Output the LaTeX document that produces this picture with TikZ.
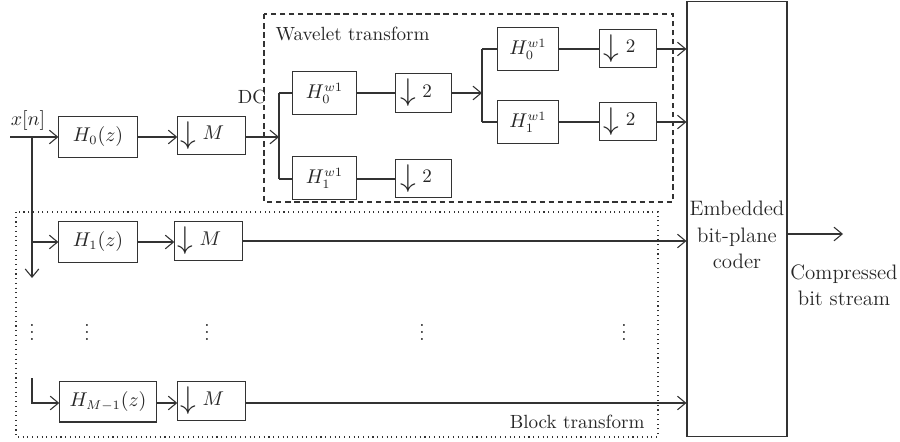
\documentclass[tikz,border=0pt]{standalone}
\usetikzlibrary{arrows.meta}
\newcommand{\darr}{\raisebox{-2pt}{\fontsize{16}{16}\selectfont$\downarrow$}\hspace{3.5pt}}
\begin{document}
\begin{tikzpicture}[x=0.55pt,y=-0.55pt,line width=0.6pt,draw=black!80,
  >={Straight Barb[length=4.5pt,width=7.5pt]},
  every node/.style={font=\fontsize{10.5}{13}\selectfont,text=black!85},
  big/.style={font=\fontsize{11.5}{14.5}\selectfont},
  blk/.style={draw=black!80,inner sep=1pt},
  hbox/.style={blk,minimum width=#1,minimum height=23pt},
  wbox/.style={blk,minimum width=#1,minimum height=24pt},
  dbox/.style={draw=black!80,minimum height=21pt,text width=#1,inner xsep=1.5pt,inner ysep=1pt,align=left},
  lbl/.style={inner sep=0pt}]
\useasboundingbox (0,0) rectangle (900,442);

% frames
\draw[dash pattern=on 3pt off 2pt] (264,14) rectangle (673,202);
\draw[dotted] (16,212) rectangle (658,437);

% coder
\node[blk,minimum width=55pt,minimum height=239.5pt] (coder) at (737,219) {};
\node[lbl,big,align=center] (codertext) at (737,235) {Embedded\\bit-plane\\coder};

% main row 0
\coordinate (xin) at (10,137);
\coordinate (s0) at (32,137);
\node[lbl] (xn) at (28,121) {$x[n]$};
\node[hbox=43pt] (H0) at (98,137) {$H_0(z)$};
\node[dbox=34pt] (M0) at (211.5,135.5) {\darr$M$};
\node[lbl] (dc) at (252,97) {DC};

% wavelet level 1
\coordinate (b1) at (279,137);
\coordinate (b1t) at (279,93);
\coordinate (b1b) at (279,179);
\node[wbox=35pt] (H0a) at (324.5,93) {$H_0^{w1}$};
\node[dbox=25.5pt,inner xsep=2.5pt] (D0a) at (423.5,93) {\darr 2};
\node[wbox=35pt] (H1a) at (324.5,178) {$H_1^{w1}$};
\node[dbox=25.5pt,inner xsep=2.5pt] (D1a) at (423.5,178.5) {\darr 2};
\node[lbl,anchor=west] (wt) at (275,34) {Wavelet transform};

% wavelet level 2
\coordinate (b2) at (482,93);
\coordinate (b2t) at (482,49);
\coordinate (b2b) at (482,122);
\node[wbox=34pt] (H0b) at (528,49) {$H_0^{w1}$};
\node[dbox=26.5pt,inner xsep=2.5pt] (D0b) at (628,48.5) {\darr 2};
\node[wbox=34pt] (H1b) at (528,122) {$H_1^{w1}$};
\node[dbox=26.5pt,inner xsep=2.5pt] (D1b) at (628,121.5) {\darr 2};

% row 1
\coordinate (s1) at (32,242);
\coordinate (sdown) at (32,278);
\node[hbox=43pt] (H1) at (98,242) {$H_1(z)$};
\node[dbox=34pt] (M1) at (208.5,241) {\darr$M$};

% row M-1
\coordinate (sm0) at (32,378);
\coordinate (sm1) at (32,403);
\node[hbox=53pt,minimum height=22.5pt] (HM) at (108,401.5) {$H_{M-1}(z)$};
\node[dbox=34pt] (MM) at (211.5,401) {\darr$M$};
\node[lbl,anchor=east] (bt) at (645,422) {Block transform};

% dots
\node[lbl] (v1) at (32,327) {$\vdots$};
\node[lbl] (v2) at (87,327) {$\vdots$};
\node[lbl] (v3) at (207,327) {$\vdots$};
\node[lbl] (v4) at (422,327) {$\vdots$};
\node[lbl] (v5) at (624,327) {$\vdots$};

% output
\coordinate (out) at (843,234);
\node[lbl,big,align=center] (cbs) at (844,285) {Compressed\\bit stream};

% connectors
\draw[->] (xin) -- (H0.west |- xin);
\draw[->] (s0) -- (sdown);
\draw[->] (s1) -- (H1.west |- s1);
\draw[->] (H0.east |- xin) -- (M0.west |- xin);
\draw[->] (M0.east |- b1) -- (b1);
\draw (b1t) -- (b1b);
\draw (b1t) -- (H0a.west |- b1t);
\draw (b1b) -- (H1a.west |- b1b);
\draw (H0a.east |- b1t) -- (D0a.west |- b1t);
\draw (H1a.east |- b1b) -- (D1a.west |- b1b);
\draw[->] (D0a.east |- b2) -- (b2);
\draw (b2t) -- (b2b);
\draw (b2t) -- (H0b.west |- b2t);
\draw (b2b) -- (H1b.west |- b2b);
\draw (H0b.east |- b2t) -- (D0b.west |- b2t);
\draw (H1b.east |- b2b) -- (D1b.west |- b2b);
\draw[->] (D0b.east |- b2t) -- (coder.west |- b2t);
\draw[->] (D1b.east |- b2b) -- (coder.west |- b2b);
\draw[->] (H1.east |- s1) -- (M1.west |- s1);
\draw[->] (M1.east) -- (coder.west |- M1.east);
\draw[->] (sm0) -- (sm1) -- (HM.west |- sm1);
\draw[->] (HM.east |- sm1) -- (MM.west |- sm1);
\draw[->] (MM.east |- sm1) -- (coder.west |- sm1);
\draw[->] (coder.east |- out) -- (out);
\end{tikzpicture}
\end{document}
